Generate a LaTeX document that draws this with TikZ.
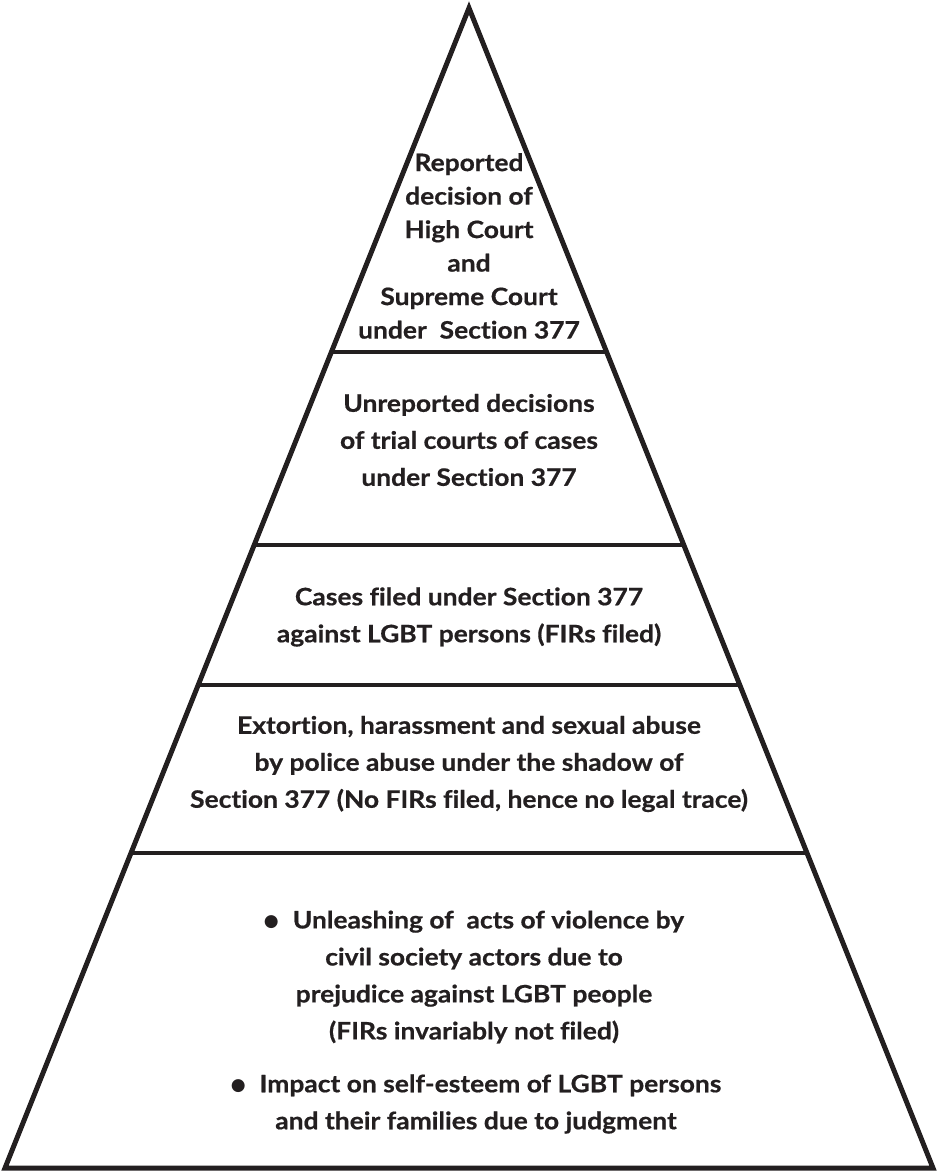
\documentclass[tikz,border=0pt]{standalone}
\usepackage{fontspec}
\setmainfont{Lato}[Ligatures=NoCommon,BoldFeatures={FakeStretch=1.1,FakeBold=0.6}]
\newfontfamily\dejavu{DejaVu Sans}
\definecolor{ink}{HTML}{231F20}
\newcommand{\blt}{\raisebox{2pt}{\dejavu\fontsize{17}{17}\selectfont●}}
\begin{document}
\begin{tikzpicture}[x=1pt,y=-1pt,
  side/.style={draw=ink,line width=5pt,line join=miter},
  divider/.style={draw=ink,line width=4pt},
  label/.style={text=ink,font=\fontsize{24}{37}\selectfont\bfseries,align=center,inner sep=0pt}]
\useasboundingbox (0,0) rectangle (939,1172);
\coordinate (apex) at (469,8);
\coordinate (bl) at (5,1168);
\coordinate (br) at (933,1168);
\draw[side] (apex) -- (bl) -- (br) -- cycle;
% dividers (end on sides)
\foreach \y/\n in {352/a,545/b,685/c,853/d}{
  \path (apex) -- (bl) coordinate[pos={(\y-8)/1160}] (l\n);
  \path (apex) -- (br) coordinate[pos={(\y-8)/1160}] (r\n);
  \draw[divider] (l\n) -- (r\n);
}
\node[label,font=\fontsize{24}{33.5}\selectfont\bfseries] (t1) at (469,246) {Reported\\decision of\\High Court\\and\\Supreme Court\\under\ \ Section 377};
\node[label] (t2) at (469,440) {Unreported decisions\\of trial courts of cases\\under Section 377};
\node[label] (t3) at (469,617) {Cases filed under Section 377\\against LGBT persons (FIRs filed)};
\node[label] (t4) at (469,764) {Extortion, harassment and sexual abuse\\by police abuse under the shadow of\\Section 377 (No FIRs filed, hence no legal trace)};
\node[label] (t5) at (474,977) {\blt\hspace{14pt}Unleashing of\ \ acts of violence by\\civil society actors due to\\prejudice against LGBT people\\(FIRs invariably not filed)};
\node[label] (t6) at (476,1104) {\blt\hspace{14pt}Impact on self-esteem of LGBT persons\\and their families due to judgment};
\end{tikzpicture}
\end{document}
